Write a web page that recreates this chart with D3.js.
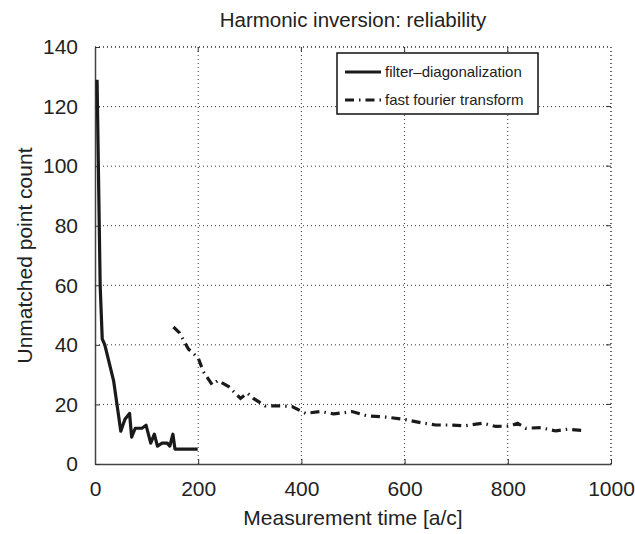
<!DOCTYPE html>
<html>
<head>
<meta charset="utf-8">
<script src="https://cdn.jsdelivr.net/npm/d3@7"></script>
<style>
  body { margin: 0; background: #fff; }
  text { font-family: "Liberation Sans", Arial, sans-serif; fill: #222; }
</style>
</head>
<body>
<div class="container"></div>
<script>
const width = 635,
    height = 534,
    margin = { top: 47, right: 24, bottom: 70, left: 95 };

// filter-diagonalization: measurement time vs unmatched points
const fdTime = [4, 10, 14, 19, 36, 50, 58, 67, 71, 78, 91, 99, 108, 115, 121, 130, 140, 145, 151, 155, 199];
const fdCount = [129, 60, 42, 40, 28, 11, 15, 17, 9, 12, 12, 13, 7, 10, 6, 7, 7, 6, 10, 5, 5];

// fast fourier transform
const fftTime = [152, 164, 181, 200, 210, 227, 238, 259, 282, 295, 307, 330, 356, 382, 408, 437, 463, 498, 527, 566, 599, 631, 660, 689, 715, 751, 777, 806, 819, 835, 864, 893, 916, 948];
const fftCount = [46, 44, 38.6, 35.6, 31, 26.6, 28, 26, 22, 23.8, 22, 19.5, 19.5, 19.3, 17, 17.6, 16.8, 17.6, 16.2, 15.7, 15, 13.9, 13.1, 13.1, 12.8, 13.7, 12.6, 12.8, 13.7, 12, 12.2, 11.1, 11.7, 11.2];

const xTicks = [0, 200, 400, 600, 800, 1000];
const yTicks = [0, 20, 40, 60, 80, 100, 120, 140];

const seriesNames = ['filter\u2013diagonalization', 'fast fourier transform'];

const iw = width - margin.left - margin.right,
    ih = height - margin.top - margin.bottom;

const x = d3.scaleLinear().domain([0, 1000]).range([0, iw]);
const y = d3.scaleLinear().domain([0, 140]).range([ih, 0]);

const svg = d3.select('.container')
    .append('svg')
    .attr('width', width)
    .attr('height', height);

const g = svg.append('g')
    .attr('transform', `translate(${margin.left}, ${margin.top})`);

// grid
g.append('g')
    .selectAll('line')
    .data(xTicks.slice(1))
    .enter()
    .append('line')
    .attr('x1', d => x(d)).attr('x2', d => x(d))
    .attr('y1', 0).attr('y2', ih)
    .attr('stroke', '#333')
    .attr('stroke-width', 1)
    .attr('stroke-dasharray', '1,3');

g.append('g')
    .selectAll('line')
    .data(yTicks.slice(1))
    .enter()
    .append('line')
    .attr('y1', d => y(d)).attr('y2', d => y(d))
    .attr('x1', 0).attr('x2', iw)
    .attr('stroke', '#333')
    .attr('stroke-width', 1)
    .attr('stroke-dasharray', '1,3');

// axes
const xAxis = g.append('g')
    .attr('transform', `translate(0, ${ih})`)
    .call(d3.axisBottom(x).tickValues(xTicks).tickFormat(d3.format('d'))
        .tickSizeInner(-5).tickSizeOuter(0).tickPadding(17));

const yAxis = g.append('g')
    .call(d3.axisLeft(y).tickValues(yTicks).tickSizeInner(-5).tickSizeOuter(0).tickPadding(17));

[xAxis, yAxis].forEach(a => {
    a.selectAll('text')
        .style('font-size', '21px')
        .style('font-family', '"Liberation Sans", Arial, sans-serif')
        .attr('fill', '#222');
    a.select('.domain').attr('stroke', '#444').attr('stroke-width', 1.5);
    a.selectAll('.tick line').attr('stroke', '#333');
});

// top ticks
g.append('g')
    .selectAll('line')
    .data(xTicks.slice(1, -1))
    .enter()
    .append('line')
    .attr('x1', d => x(d)).attr('x2', d => x(d))
    .attr('y1', 0).attr('y2', 5)
    .attr('stroke', '#333');

// right ticks
g.append('g')
    .selectAll('line')
    .data(yTicks.slice(1, -1))
    .enter()
    .append('line')
    .attr('y1', d => y(d)).attr('y2', d => y(d))
    .attr('x1', iw).attr('x2', iw - 5)
    .attr('stroke', '#333');

// top / right border
g.append('path')
    .attr('d', `M0,0H${iw}V${ih}`)
    .attr('fill', 'none')
    .attr('stroke', '#333')
    .attr('stroke-dasharray', '1,3');

const line = d3.line()
    .x(d => x(d[0]))
    .y(d => y(d[1]));

g.append('path')
    .datum(fdTime.map((t, i) => [t, fdCount[i]]))
    .attr('d', line)
    .attr('fill', 'none')
    .attr('stroke', '#1a1a1a')
    .attr('stroke-width', 3.2)
    .attr('stroke-linejoin', 'round');

g.append('path')
    .datum(fftTime.map((t, i) => [t, fftCount[i]]))
    .attr('d', line)
    .attr('fill', 'none')
    .attr('stroke', '#1a1a1a')
    .attr('stroke-width', 3.2)
    .attr('stroke-dasharray', '9,5,1.5,5');

// legend
const legend = svg.append('g')
    .attr('id', 'legend')
    .attr('transform', 'translate(337, 53)');

legend.append('rect')
    .attr('width', 201)
    .attr('height', 61)
    .attr('fill', '#fff')
    .attr('stroke', '#111')
    .attr('stroke-width', 1.5);

const legendItem = legend.selectAll('.legend-item')
    .data(seriesNames)
    .enter()
    .append('g')
    .attr('class', 'legend-item')
    .attr('transform', (d, i) => `translate(0, ${19 + i * 28})`);

legendItem.append('line')
    .attr('x1', 8).attr('x2', 44)
    .attr('stroke', '#1a1a1a')
    .attr('stroke-width', 3.2)
    .attr('stroke-dasharray', (d, i) => i ? '9,5,1.5,5' : null);

legendItem.append('text')
    .attr('x', 48)
    .attr('y', 5)
    .style('font-size', '15px')
    .text(d => d);

// titles
svg.append('text')
    .attr('x', margin.left + iw / 2)
    .attr('y', 27)
    .attr('text-anchor', 'middle')
    .style('font-size', '20.5px')
    .text('Harmonic inversion: reliability');

svg.append('text')
    .attr('x', margin.left + iw / 2)
    .attr('y', 525)
    .attr('text-anchor', 'middle')
    .style('font-size', '21px')
    .text('Measurement time [a/c]');

svg.append('text')
    .attr('transform', `translate(32, ${margin.top + ih / 2}) rotate(-90)`)
    .attr('text-anchor', 'middle')
    .style('font-size', '21px')
    .text('Unmatched point count');
</script>
</body>
</html>
